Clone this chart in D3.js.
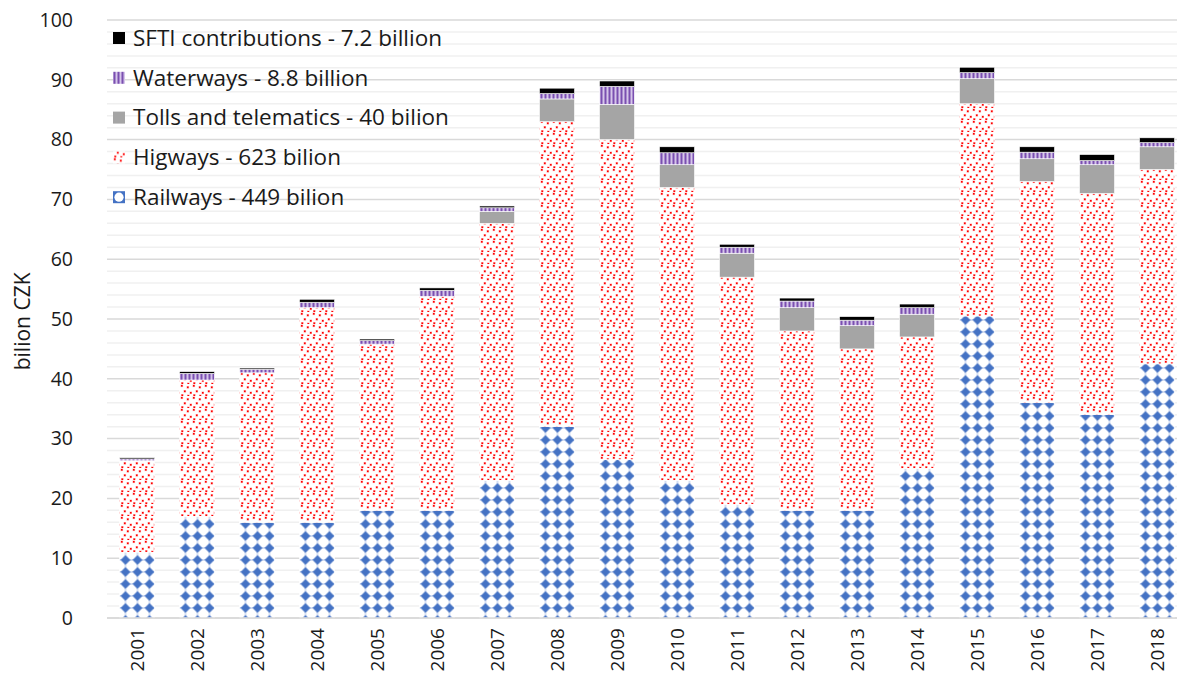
<!DOCTYPE html>
<html>
<head>
<meta charset="utf-8">
<script src="https://cdn.jsdelivr.net/npm/d3@7"></script>
<style>
  html, body { margin: 0; padding: 0; background: #fff; }
  svg text { font-family: "Open Sans", Lato, sans-serif; fill: #1a1a1a; }
</style>
</head>
<body>
<div id="chart"></div>
<script>
// values, billion CZK
const years = ["2001","2002","2003","2004","2005","2006","2007","2008","2009",
               "2010","2011","2012","2013","2014","2015","2016","2017","2018"];
const railways  = [11, 17, 16, 16, 18, 18, 23, 32, 26.5, 23, 19, 18, 18, 25, 50.5, 36, 34, 42.5];
const highways  = [15.3, 22.8, 25, 35.9, 27.8, 35.8, 43, 51, 53.5, 49, 38, 30, 27, 22, 35.5, 37, 37, 32.5];
const tolls     = [0, 0, 0, 0, 0, 0, 2, 3.8, 5.9, 3.8, 4, 3.9, 3.9, 3.8, 4.2, 3.8, 4.8, 3.8];
const waterways = [0.3, 1.1, 0.6, 0.9, 0.6, 1.0, 0.6, 0.9, 3.0, 2.0, 1.0, 1.1, 0.9, 1.1, 1.0, 1.1, 0.7, 0.7];
const sfti      = [0.2, 0.3, 0.2, 0.5, 0.25, 0.4, 0.3, 0.9, 0.9, 1.0, 0.5, 0.5, 0.6, 0.6, 0.9, 0.9, 1.0, 0.8];
const yTicks = [0, 10, 20, 30, 40, 50, 60, 70, 80, 90, 100];

const series = [
  { key: "railways",  label: "Railways - 449 bilion",            values: railways },
  { key: "highways",  label: "Higways - 623 bilion",             values: highways },
  { key: "tolls",     label: "Tolls and telematics - 40 bilion", values: tolls },
  { key: "waterways", label: "Waterways - 8.8 billion",          values: waterways },
  { key: "sfti",      label: "SFTI contributions - 7.2 billion", values: sfti }
];

const WIDTH = 1177, HEIGHT = 687;
const MARGIN = { left: 107, top: 20, bottom: 618 };

const svg = d3.select("#chart").append("svg")
  .attr("width", WIDTH).attr("height", HEIGHT);

const x = d3.scaleBand().domain(years).range([MARGIN.left, MARGIN.left + 60 * years.length])
  .paddingInner(25 / 60).paddingOuter(0.2083);
const y = d3.scaleLinear().domain([0, 100]).range([MARGIN.bottom, MARGIN.top]);

// ---- patterns
const defs = svg.append("defs");
const bx = x(years[0]);

const rail = defs.append("pattern").attr("id", "p-railways")
  .attr("patternUnits", "userSpaceOnUse").attr("width", 12).attr("height", 12)
  .attr("x", bx).attr("y", 602);
rail.append("rect").attr("width", 12).attr("height", 12).attr("fill", "#fff");
rail.append("path").attr("stroke", "#a9bde6").attr("stroke-width", 1)
  .attr("d", "M6,0 V12 M0,6 H12");
rail.append("path").attr("fill", "#4472c4").attr("stroke", "#4472c4")
  .attr("stroke-width", 1).attr("stroke-linejoin", "round")
  .attr("d", "M6,1.6 L10.4,6 L6,10.4 L1.6,6 Z");

const hw = defs.append("pattern").attr("id", "p-highways")
  .attr("patternUnits", "userSpaceOnUse").attr("width", 12).attr("height", 12);
hw.append("rect").attr("width", 12).attr("height", 12).attr("fill", "#fff");
[[1, 1], [7, 2.5], [4, 6.5], [10, 8], [1.5, 10.5], [7.5, 11]].forEach(([px, py]) => {
  hw.append("rect").attr("x", px - 0.5).attr("y", py - 0.5).attr("width", 2.6).attr("height", 2.6)
    .attr("fill", "#ffb3b3");
  hw.append("rect").attr("x", px).attr("y", py).attr("width", 1.6).attr("height", 1.6)
    .attr("fill", "#ff0000");
});

const ww = defs.append("pattern").attr("id", "p-waterways")
  .attr("patternUnits", "userSpaceOnUse").attr("width", 4).attr("height", 4).attr("x", bx);
ww.append("rect").attr("width", 4).attr("height", 4).attr("fill", "#d6c6ea");
ww.append("rect").attr("x", 1).attr("width", 2).attr("height", 4).attr("fill", "#7a4fb0");

const fills = {
  railways: "url(#p-railways)",
  highways: "url(#p-highways)",
  tolls: "#a5a5a5",
  waterways: "url(#p-waterways)",
  sfti: "#000"
};

// ---- gridlines (minor every 2, major every 10)
const grid = svg.append("g");
grid.selectAll("line.minor")
  .data(d3.range(2, 101, 2).filter(v => v % 10 !== 0))
  .join("line").attr("class", "minor")
  .attr("x1", MARGIN.left).attr("x2", WIDTH)
  .attr("y1", d => y(d)).attr("y2", d => y(d))
  .attr("stroke", "#f0f0f0").attr("stroke-width", 1.5);
grid.selectAll("line.major")
  .data(yTicks)
  .join("line").attr("class", "major")
  .attr("x1", MARGIN.left).attr("x2", WIDTH)
  .attr("y1", d => y(d)).attr("y2", d => y(d))
  .attr("stroke", "#d9d9d9").attr("stroke-width", 1.5);

// ---- stacked bars
const table = years.map((yr, i) => {
  const row = { year: yr };
  series.forEach(s => row[s.key] = s.values[i]);
  return row;
});
const stacked = d3.stack().keys(series.map(s => s.key))(table);

svg.append("g").selectAll("g")
  .data(stacked)
  .join("g")
  .attr("fill", d => fills[d.key])
  .selectAll("rect")
  .data(d => d.filter(p => p[1] - p[0] > 0))
  .join("rect")
  .attr("x", d => x(d.data.year))
  .attr("width", x.bandwidth())
  .attr("y", d => y(d[1]))
  .attr("height", d => y(d[0]) - y(d[1]))
  .attr("stroke", "#fff").attr("stroke-width", 0.6);

// x axis baseline
svg.append("line")
  .attr("x1", MARGIN.left).attr("x2", WIDTH)
  .attr("y1", y(0)).attr("y2", y(0))
  .attr("stroke", "#d9d9d9").attr("stroke-width", 1.5);

// ---- y labels
svg.append("g").selectAll("text")
  .data(yTicks)
  .join("text")
  .attr("x", 73).attr("y", d => y(d))
  .attr("dy", "0.35em")
  .attr("text-anchor", "end")
  .style("font-size", "19.5px")
  .text(d => d);

svg.append("text")
  .attr("transform", `translate(23,${y(49.6)}) rotate(-90)`)
  .attr("dy", "0.35em")
  .attr("text-anchor", "middle")
  .style("font-size", "21px")
  .text("bilion CZK");

// ---- x labels (rotated)
svg.append("g").selectAll("text")
  .data(years)
  .join("text")
  .attr("transform", d => `translate(${x(d) + x.bandwidth() / 2},628) rotate(-90)`)
  .attr("dy", "0.35em")
  .attr("text-anchor", "end")
  .style("font-size", "19px")
  .text(d => d);

// ---- legend
const legendOrder = series.slice().reverse();
const lg = svg.append("g").selectAll("g")
  .data(legendOrder)
  .join("g")
  .attr("transform", (d, i) => `translate(113,${38 + i * 39.8})`);

lg.append("rect")
  .attr("x", 0).attr("y", -6).attr("width", 12).attr("height", 12)
  .attr("fill", d => d.key === "railways" ? "#4472c4" : fills[d.key]);
lg.filter(d => d.key === "railways").append("circle")
  .attr("cx", 6).attr("cy", 0).attr("r", 4.6).attr("fill", "#fff");

lg.append("text")
  .attr("x", 20).attr("y", 0).attr("dy", "0.35em")
  .style("font-size", "22.5px")
  .text(d => d.label);
</script>
</body>
</html>
